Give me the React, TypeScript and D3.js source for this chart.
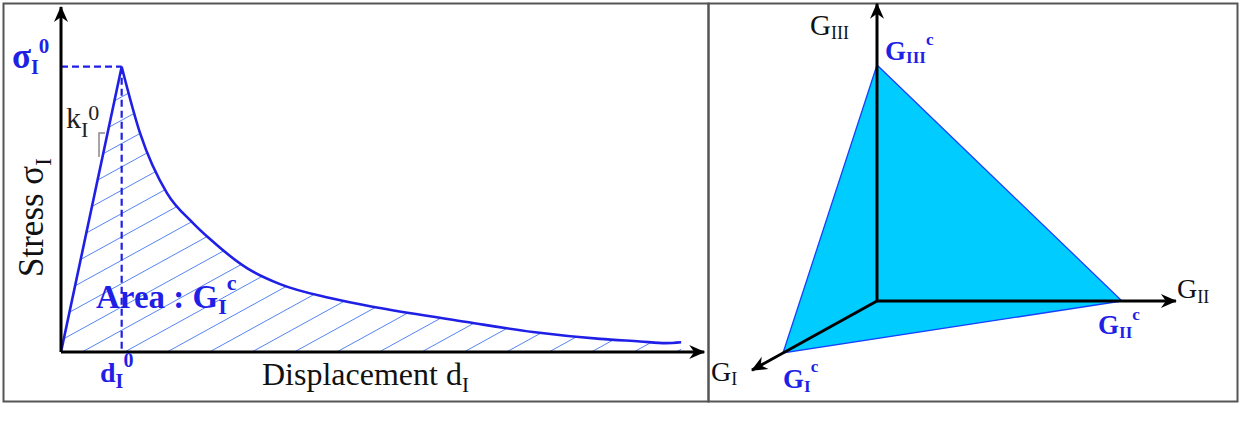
import React from "react";
import * as d3 from "d3";

// Left panel: cohesive law (traction–separation), displacement vs stress
const displacement = [0, 9.48, 12.34, 16.56, 20.63, 23.28, 29.06, 34.22, 42.03, 49.84, 63.44, 73.75, 84.22, 90.47, 94.5, 96.9];
const stress = [0, 100, 76.8, 55.7, 45.2, 39.6, 29.4, 23.8, 18.9, 15.4, 10.5, 7.0, 4.6, 3.7, 3.1, 3.4];
const peakIndex = 1;

// Right panel: critical energy release rates (mixed-mode failure envelope)
const modes = ["GI", "GII", "GIII"];
const criticalValues = [1, 1, 1];
const axisMax = [1.33, 1.22, 1.26];

const BLUE = "#1f1fe6";
const HATCH = "#5585f2";
const FONT = "'Liberation Serif', 'Times New Roman', serif";

export default function App() {
  const x = d3.scaleLinear().domain([0, 100]).range([61, 701]);
  const y = d3.scaleLinear().domain([0, 100]).range([352, 66.7]);

  const pts = displacement.map((d, i) => [d, stress[i]] as [number, number]);
  const rise = d3
    .line<[number, number]>()
    .x((p) => x(p[0]))
    .y((p) => y(p[1]))
    .curve(d3.curveLinear)(pts.slice(0, peakIndex + 1))!;
  const decay = d3
    .line<[number, number]>()
    .x((p) => x(p[0]))
    .y((p) => y(p[1]))
    .curve(d3.curveMonotoneX)(pts.slice(peakIndex))!;
  const last = pts[pts.length - 1];
  const areaPath =
    rise +
    decay.replace(/^M[^CLQ]*/, "") +
    `L${x(last[0])},${y(0)}L${x(0)},${y(0)}Z`;

  // hatching lines
  const hatchStart = 3.3;
  const hatchStep = 6.63;
  const slope = 0.55;
  const hatch: number[] = d3.range(-20, 20).map((k) => x(hatchStart + k * hatchStep));

  const peakX = x(displacement[peakIndex]);
  const peakY = y(stress[peakIndex]);

  // Right panel projection
  const ox = 877,
    oy = 301;
  const g1x = d3.scaleLinear().domain([0, 1]).range([ox, 783]);
  const g1y = d3.scaleLinear().domain([0, 1]).range([oy, 353]);
  const g2x = d3.scaleLinear().domain([0, 1]).range([ox, 1122]);
  const g3y = d3.scaleLinear().domain([0, 1]).range([oy, 65]);
  const vI = [g1x(criticalValues[0]), g1y(criticalValues[0])];
  const vII = [g2x(criticalValues[1]), oy];
  const vIII = [ox, g3y(criticalValues[2])];

  return (
    <svg
      width={1245}
      height={430}
      style={{ position: "absolute", left: 0, top: 0, background: "#fff" }}
      fontFamily={FONT}
    >
      <defs>
        <marker
          id="arr"
          viewBox="-16 -8 18 16"
          markerWidth={18}
          markerHeight={16}
          refX={0}
          refY={0}
          orient="auto"
          markerUnits="userSpaceOnUse"
        >
          <path d="M1,0 L-15,-7 L-10,0 L-15,7 Z" fill="#000" />
        </marker>
        <clipPath id="areaClip">
          <path d={areaPath} />
        </clipPath>
      </defs>

      {/* frames */}
      <rect x={3.5} y={3.5} width={705} height={398} fill="none" stroke="#555" strokeWidth={2} />
      <rect x={708.5} y={3.5} width={529} height={398} fill="none" stroke="#555" strokeWidth={2} />

      {/* ---------- left panel ---------- */}
      <g clipPath="url(#areaClip)">
        {hatch.map((c, i) => (
          <line
            key={i}
            x1={c - 700}
            y1={y(0) + 700 * slope}
            x2={c + 700}
            y2={y(0) - 700 * slope}
            stroke={HATCH}
            strokeWidth={1}
          />
        ))}
      </g>

      {/* dashed guides */}
      <line x1={x(0)} y1={peakY} x2={peakX} y2={peakY} stroke={BLUE} strokeWidth={2.2} strokeDasharray="7,4" />
      <line x1={peakX} y1={peakY} x2={peakX} y2={y(0)} stroke={BLUE} strokeWidth={2.2} strokeDasharray="7,4" />

      {/* curve */}
      <path d={rise} fill="none" stroke={BLUE} strokeWidth={2.6} />
      <path d={decay} fill="none" stroke={BLUE} strokeWidth={2.6} />

      {/* axes */}
      <line x1={x(0)} y1={y(0)} x2={x(0)} y2={y(120.9)} stroke="#000" strokeWidth={3} markerEnd="url(#arr)" />
      <line x1={x(0)} y1={y(0)} x2={x(100.5)} y2={y(0)} stroke="#000" strokeWidth={3} markerEnd="url(#arr)" />

      {/* slope mark */}
      <path d="M99,157 L99,133 L105,133" fill="none" stroke="#888" strokeWidth={1.5} />

      {/* labels */}
      <text x={12} y={68} fontSize={35} fontWeight="bold" fill={BLUE}>
        σ<tspan fontSize={20} dy={6}>I</tspan>
        <tspan fontSize={21} dy={-21}>0</tspan>
      </text>
      <text x={66} y={128} fontSize={30} fill="#222">
        k<tspan fontSize={22} dy={9}>I</tspan>
        <tspan fontSize={22} dy={-17}>0</tspan>
      </text>
      <text transform="translate(43,277) rotate(-90)" fontSize={35} fill="#111">
        Stress σ<tspan fontSize={23} dy={8}>I</tspan>
      </text>
      <text x={96} y={308} fontSize={33} fontWeight="bold" fill={BLUE}>
        Area : G<tspan fontSize={22} dy={6}>I</tspan>
        <tspan fontSize={22} dy={-24}>c</tspan>
      </text>
      <text x={100} y={382} fontSize={28} fontWeight="bold" fill={BLUE}>
        d<tspan fontSize={20} dy={6}>I</tspan>
        <tspan fontSize={20} dy={-21}>0</tspan>
      </text>
      <text x={262} y={385} fontSize={32} fill="#111">
        Displacement d<tspan fontSize={21} dy={7}>I</tspan>
      </text>

      {/* ---------- right panel ---------- */}
      <polygon
        points={[vI, vIII, vII].map((p) => p.join(",")).join(" ")}
        fill="#00ccff"
        stroke="#1740ff"
        strokeWidth={1.3}
      />
      <line x1={ox} y1={oy} x2={ox} y2={g3y(axisMax[2])} stroke="#000" strokeWidth={3} markerEnd="url(#arr)" />
      <line x1={ox} y1={oy} x2={g2x(axisMax[1])} y2={oy} stroke="#000" strokeWidth={3} markerEnd="url(#arr)" />
      <line
        x1={ox}
        y1={oy}
        x2={g1x(axisMax[0])}
        y2={g1y(axisMax[0])}
        stroke="#000"
        strokeWidth={3}
        markerEnd="url(#arr)"
      />

      {/* axis names */}
      <text x={810} y={35} fontSize={29} fill="#111">
        G<tspan fontSize={18} dy={4}>{modes[2].slice(1)}</tspan>
      </text>
      <text x={1177} y={298} fontSize={28} fill="#111">
        G<tspan fontSize={18} dy={5}>{modes[1].slice(1)}</tspan>
      </text>
      <text x={711} y={381} fontSize={28} fill="#111">
        G<tspan fontSize={18} dy={4}>{modes[0].slice(1)}</tspan>
      </text>

      {/* critical values */}
      <text x={885} y={60} fontSize={27} fontWeight="bold" fill={BLUE}>
        G<tspan fontSize={17} dy={3}>III</tspan>
        <tspan fontSize={17} dy={-18}>c</tspan>
      </text>
      <text x={1098} y={334} fontSize={27} fontWeight="bold" fill={BLUE}>
        G<tspan fontSize={17} dy={4}>II</tspan>
        <tspan fontSize={17} dy={-18}>c</tspan>
      </text>
      <text x={783} y={388} fontSize={27} fontWeight="bold" fill={BLUE}>
        G<tspan fontSize={17} dy={4}>I</tspan>
        <tspan fontSize={17} dy={-20}>c</tspan>
      </text>

      {/* caption fragment cut by the bottom edge, as in the reference */}
      <text x={986} y={449} fontSize={30} fill="#111">
        1
      </text>
    </svg>
  );
}
